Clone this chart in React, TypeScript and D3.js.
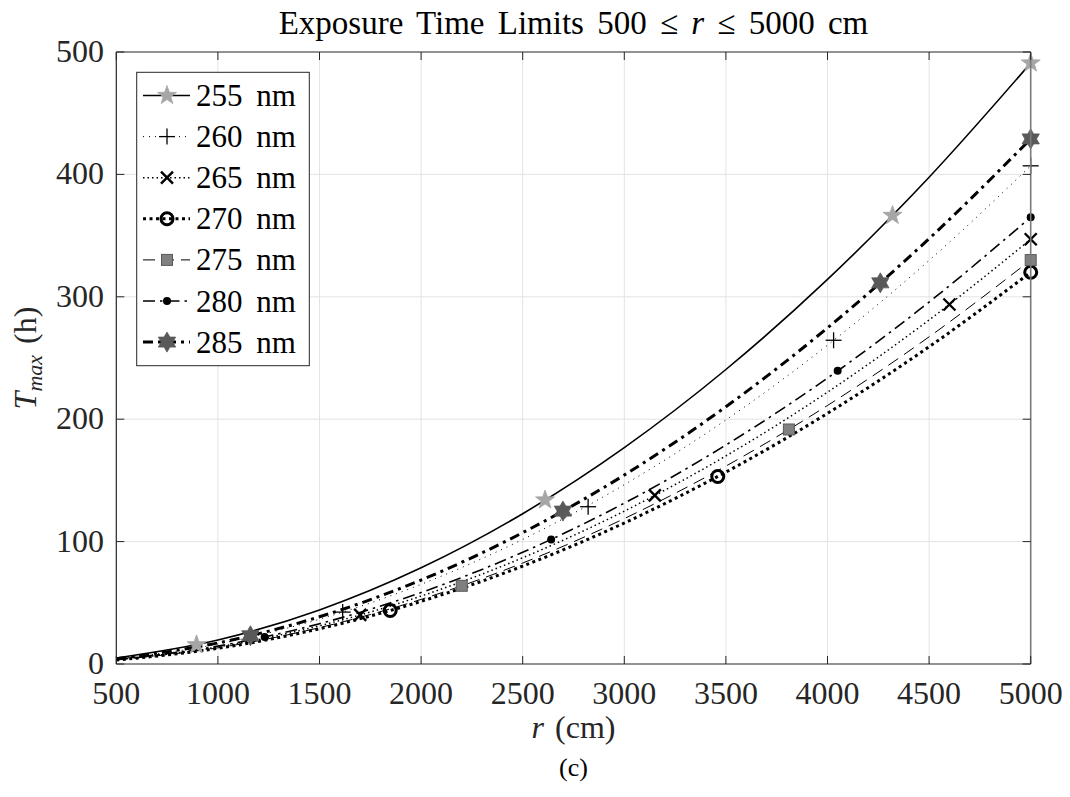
import React from "react";
import * as d3 from "d3";

const xTicks = [500, 1000, 1500, 2000, 2500, 3000, 3500, 4000, 4500, 5000];
const yTicks = [0, 100, 200, 300, 400, 500];
const rGrid = [500, 1000, 1500, 2000, 2500, 3000, 3500, 4000, 4500, 5000];

const t255 = [4.9, 19.6, 44.2, 78.6, 122.8, 176.8, 240.6, 314.2, 397.7, 491];
const t260 = [4.1, 16.3, 36.6, 65.1, 101.8, 146.5, 199.4, 260.5, 329.7, 407];
const t265 = [3.5, 13.9, 31.2, 55.5, 86.8, 124.9, 170.0, 222.1, 281.1, 347];
const t270 = [3.2, 12.8, 28.8, 51.2, 80.0, 115.2, 156.8, 204.8, 259.2, 320];
const t275 = [3.3, 13.2, 29.7, 52.8, 82.5, 118.8, 161.7, 211.2, 267.3, 330];
const t280 = [3.7, 14.6, 32.9, 58.4, 91.3, 131.4, 178.9, 233.6, 295.7, 365];
const t285 = [4.3, 17.2, 38.6, 68.6, 107.3, 154.4, 210.2, 274.6, 347.5, 429];

const m255: [number, number][] = [[895, 15.7], [2610, 134], [4320, 366.5], [5000, 491]];
const m260: [number, number][] = [[1614, 42.4], [2822, 128.5], [4030, 264.5], [5000, 407]];
const m265: [number, number][] = [[1700, 40.1], [3150, 137.7], [4600, 293.7], [5000, 347]];
const m270: [number, number][] = [[1848, 43.7], [3460, 153.2], [5000, 320]];
const m275: [number, number][] = [[2200, 63.9], [3810, 191.6], [5000, 330]];
const m280: [number, number][] = [[1230, 22.1], [2640, 101.8], [4050, 239.5], [5000, 365]];
const m285: [number, number][] = [[1160, 23.1], [2698, 124.9], [4260, 311.4], [5000, 429]];

const labels = ["255 nm", "260 nm", "265 nm", "270 nm", "275 nm", "280 nm", "285 nm"];

type Style = { width: number; dash: string; marker: string };
const styles: Style[] = [
  { width: 1.6, dash: "", marker: "star" },
  { width: 1, dash: "1,5", marker: "plus" },
  { width: 1.5, dash: "1.5,3", marker: "x" },
  { width: 3, dash: "3,3.5", marker: "o" },
  { width: 1, dash: "12,7", marker: "square" },
  { width: 1.6, dash: "12,5,2.5,5", marker: "dot" },
  { width: 3, dash: "10,5,3,5", marker: "hex" },
];

const series = [t255, t260, t265, t270, t275, t280, t285];
const markers = [m255, m260, m265, m270, m275, m280, m285];

const FONT = "'Liberation Serif', 'DejaVu Serif', serif";

function starPath(n: number, R: number, ri: number) {
  const pts: string[] = [];
  for (let i = 0; i < 2 * n; i++) {
    const a = -Math.PI / 2 + (i * Math.PI) / n;
    const rr = i % 2 === 0 ? R : ri;
    pts.push(`${(rr * Math.cos(a)).toFixed(2)},${(rr * Math.sin(a)).toFixed(2)}`);
  }
  return "M" + pts.join("L") + "Z";
}

function Marker({ kind, x, y }: { kind: string; x: number; y: number }) {
  const t = `translate(${x},${y})`;
  switch (kind) {
    case "star":
      return <path transform={t} d={starPath(5, 10, 4)} fill="#a6a6a6" stroke="#a6a6a6" strokeWidth={0.8} />;
    case "hex":
      return <path transform={t} d={starPath(6, 10, 5.8)} fill="#595959" stroke="#595959" strokeWidth={0.8} />;
    case "plus":
      return (
        <g transform={t} stroke="#000" strokeWidth={1.3}>
          <line x1={-8} y1={0} x2={8} y2={0} />
          <line x1={0} y1={-8} x2={0} y2={8} />
        </g>
      );
    case "x":
      return (
        <g transform={t} stroke="#000" strokeWidth={2.4}>
          <line x1={-6} y1={-6} x2={6} y2={6} />
          <line x1={-6} y1={6} x2={6} y2={-6} />
        </g>
      );
    case "o":
      return <circle transform={t} r={6} fill="none" stroke="#000" strokeWidth={3} />;
    case "square":
      return <rect transform={t} x={-5.5} y={-5.5} width={11} height={11} fill="#808080" stroke="#595959" strokeWidth={1} />;
    case "dot":
      return <circle transform={t} r={4} fill="#000" />;
    default:
      return null;
  }
}

export default function App() {
  const W = 1070, H = 797;
  const L = 116.3, R = 1030.7, T = 52, B = 664;
  const x = d3.scaleLinear().domain([500, 5000]).range([L, R]);
  const y = d3.scaleLinear().domain([0, 500]).range([B, T]);
  const line = d3
    .line<number>()
    .x((_, i) => x(rGrid[i]))
    .y((d) => y(d))
    .curve(d3.curveMonotoneX);
  const axisColor = "#262626";
  const tick = 8;

  const lgX = 136.7, lgY = 72.3, lgW = 172.6, lgH = 293.4;
  const rowY0 = 95.5, rowDy = 41.1;

  return (
    <svg width={W} height={H} style={{ display: "block", position: "absolute", left: 0, top: 0 }} fontFamily={FONT}>
      <rect x={0} y={0} width={W} height={H} fill="#fff" />
      {/* grid */}
      {xTicks.slice(1, -1).map((v) => (
        <line key={"gx" + v} x1={x(v)} x2={x(v)} y1={T} y2={B} stroke="#e3e3e3" strokeWidth={1} />
      ))}
      {yTicks.slice(1, -1).map((v) => (
        <line key={"gy" + v} x1={L} x2={R} y1={y(v)} y2={y(v)} stroke="#e3e3e3" strokeWidth={1} />
      ))}
      {/* series lines */}
      <g clipPath="url(#clip)">
        {series.map((s, i) => (
          <path
            key={"l" + i}
            d={line(s) || ""}
            fill="none"
            stroke="#000"
            strokeWidth={styles[i].width}
            strokeDasharray={styles[i].dash || undefined}
          />
        ))}
      </g>
      {/* markers */}
      {markers.map((ms, i) =>
        ms.map((m, j) => <Marker key={`m${i}-${j}`} kind={styles[i].marker} x={x(m[0])} y={y(m[1])} />)
      )}
      {/* axes box */}
      <line x1={L} x2={R} y1={B} y2={B} stroke={axisColor} strokeWidth={1.2} />
      <line x1={L} x2={L} y1={T} y2={B} stroke={axisColor} strokeWidth={1.2} />
      <line x1={L} x2={R} y1={T} y2={T} stroke={axisColor} strokeWidth={1.2} />
      <line x1={R} x2={R} y1={T} y2={B} stroke="#7a7a7a" strokeWidth={1.6} />
      {/* ticks */}
      {xTicks.map((v) => (
        <g key={"xt" + v}>
          <line x1={x(v)} x2={x(v)} y1={B} y2={B - tick} stroke={axisColor} />
          <line x1={x(v)} x2={x(v)} y1={T} y2={T + tick} stroke={axisColor} />
          <text x={x(v)} y={704} textAnchor="middle" fontSize={32} fill="#262626">
            {v}
          </text>
        </g>
      ))}
      {yTicks.map((v) => (
        <g key={"yt" + v}>
          <line x1={L} x2={L + tick} y1={y(v)} y2={y(v)} stroke={axisColor} />
          <line x1={R} x2={R - tick} y1={y(v)} y2={y(v)} stroke={axisColor} />
          <text x={104} y={y(v) + 10} textAnchor="end" fontSize={32} fill="#262626">
            {v}
          </text>
        </g>
      ))}
      {/* title */}
      <text x={(L + R) / 2} y={34} textAnchor="middle" fontSize={33} wordSpacing={5} fill="#000">
        Exposure Time Limits 500 ≤ <tspan fontStyle="italic">r</tspan> ≤ 5000 cm
      </text>
      {/* x label */}
      <text x={(L + R) / 2} y={738} textAnchor="middle" fontSize={32} wordSpacing={3} fill="#262626">
        <tspan fontStyle="italic">r</tspan> (cm)
      </text>
      {/* y label */}
      <text transform={`translate(36,${(T + B) / 2}) rotate(-90)`} textAnchor="middle" fontSize={32} wordSpacing={3} fill="#262626">
        <tspan fontStyle="italic">T</tspan>
        <tspan fontStyle="italic" fontSize={22} dy={6}>max</tspan>
        <tspan dy={-6}> (h)</tspan>
      </text>
      {/* caption */}
      <text x={(L + R) / 2} y={776} textAnchor="middle" fontSize={26} fill="#000">
        (c)
      </text>
      {/* legend */}
      <rect x={lgX} y={lgY} width={lgW} height={lgH} fill="#fff" stroke="#262626" strokeWidth={1} />
      {labels.map((lab, i) => {
        const cy = rowY0 + i * rowDy;
        return (
          <g key={"lg" + i}>
            <line
              x1={143}
              x2={190}
              y1={cy}
              y2={cy}
              stroke="#000"
              strokeWidth={styles[i].width}
              strokeDasharray={styles[i].dash || undefined}
            />
            <Marker kind={styles[i].marker} x={167} y={cy} />
            <text x={196} y={cy + 10.5} fontSize={31} wordSpacing={6} fill="#000">
              {lab}
            </text>
          </g>
        );
      })}
      <defs>
        <clipPath id="clip">
          <rect x={L} y={T} width={R - L} height={B - T} />
        </clipPath>
      </defs>
    </svg>
  );
}
